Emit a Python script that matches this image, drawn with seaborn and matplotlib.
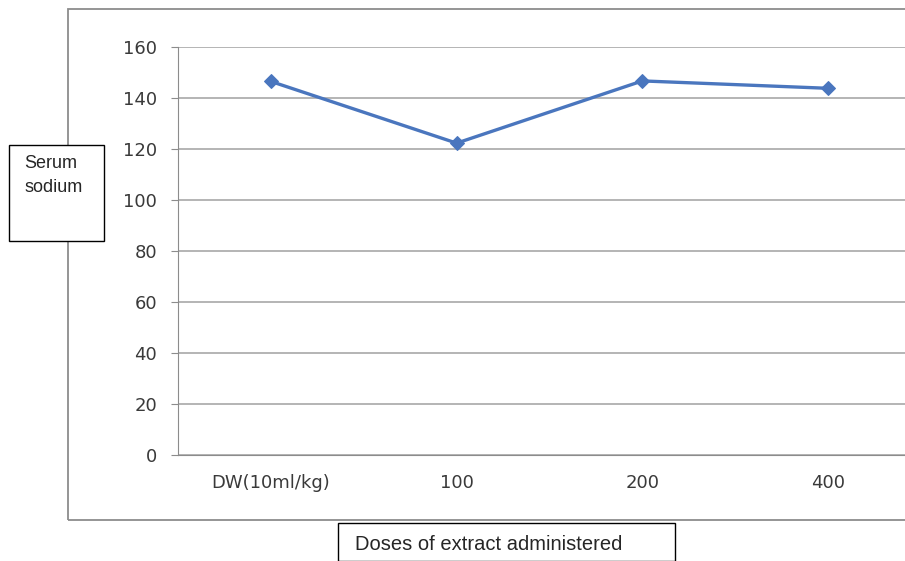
import matplotlib
matplotlib.use('Agg')
import matplotlib.pyplot as plt
from matplotlib.patches import Rectangle
import seaborn as sns
import pandas as pd

doses = ['DW(10ml/kg)', '100', '200', '400']
sodium = [146.5, 122.3, 146.7, 143.8]
y_ticks = [0, 20, 40, 60, 80, 100, 120, 140, 160]

df = pd.DataFrame({'dose': doses, 'sodium': sodium})

sns.set_style('white')
plt.rcParams['font.family'] = ['DejaVu Sans']

fig = plt.figure(figsize=(9.05, 5.61), dpi=100)

# outer chart frame (runs off the right edge like the original)
fig.patches.append(Rectangle((68 / 905, 1 - 520 / 561), 1.0, (520 - 9) / 561,
                             transform=fig.transFigure, fill=False,
                             edgecolor='#8c8c8c', linewidth=1.3, clip_on=False))

# plot area also extends a bit beyond the right side
ax = fig.add_axes([178 / 905, 106 / 561, 743 / 905, 408 / 561])

sns.lineplot(data=df, x='dose', y='sodium', sort=False, ax=ax,
             color='#4A76BE', linewidth=2.4, marker='D', markersize=7,
             markeredgecolor='#4A76BE')

ax.set_xlim(-0.5, 3.5)
ax.set_ylim(0, 160)
ax.set_yticks(y_ticks)
ax.yaxis.grid(True, color='#a8a8a8', linewidth=1.2)
ax.set_axisbelow(True)

for s in ['top', 'right']:
    ax.spines[s].set_visible(False)
ax.spines['left'].set_color('#8c8c8c')
ax.spines['bottom'].set_color('#8c8c8c')

ax.set_xticks([0, 1, 2, 3])
ax.set_xticks([0.5, 1.5, 2.5], minor=True)
ax.tick_params(axis='x', which='major', length=0, pad=14, labelsize=13, labelcolor='#3a3a3a')
ax.tick_params(axis='x', which='minor', length=5, color='#8c8c8c', direction='out')
ax.tick_params(axis='y', length=5, color='#8c8c8c', direction='out', pad=10,
               labelsize=13, labelcolor='#3a3a3a', left=True)
ax.set_xlabel('')
ax.set_ylabel('')

# text boxes for axis titles
fig.patches.append(Rectangle((9 / 905, 1 - 241 / 561), 95 / 905, 96 / 561,
                             transform=fig.transFigure, fill=True, facecolor='white',
                             edgecolor='black', linewidth=1.0))
fig.text(24 / 905, 1 - 155 / 561, 'Serum\nsodium', ha='left', va='top',
         fontsize=13, family=['Liberation Sans'], linespacing=1.5)

fig.patches.append(Rectangle((338 / 905, 0), 337 / 905, (561 - 523) / 561,
                             transform=fig.transFigure, fill=True, facecolor='white',
                             edgecolor='black', linewidth=1.0, clip_on=False))
fig.text(355 / 905, 1 - 545 / 561, 'Doses of extract administered', ha='left', va='center',
         fontsize=14.5, family=['Liberation Sans'])

fig.savefig('out.png', dpi=100)
